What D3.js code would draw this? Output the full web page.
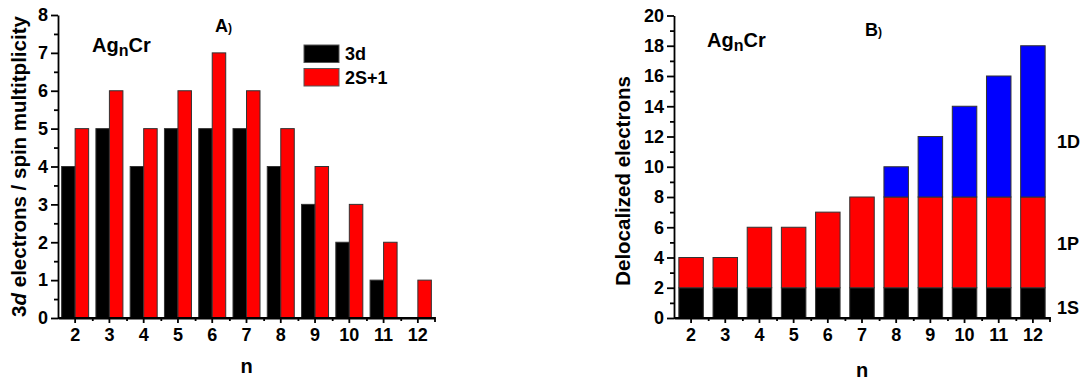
<!DOCTYPE html>
<html>
<head>
<meta charset="utf-8">
<script src="https://cdn.jsdelivr.net/npm/d3@7"></script>
<style>
  body { margin: 0; background: #fff; }
  svg { display: block; font-family: 'Liberation Sans', Arial, sans-serif; font-weight: bold; }
  .axis path, .axis line { stroke: #000; stroke-width: 1.8; }
  .axis text { font-size: 18px; font-weight: bold; fill: #000; }
</style>
</head>
<body>
<div id="chart"></div>
<script>
// cluster size n
const nValues = [2, 3, 4, 5, 6, 7, 8, 9, 10, 11, 12];

// panel A
const electrons3d = [4, 5, 4, 5, 5, 5, 4, 3, 2, 1, 0];
const spinMult = [5, 6, 5, 6, 7, 6, 5, 4, 3, 2, 1];

// panel B: delocalized electrons per shell
const shell1S = [2, 2, 2, 2, 2, 2, 2, 2, 2, 2, 2];
const shell1P = [2, 2, 4, 4, 5, 6, 6, 6, 6, 6, 6];
const shell1D = [0, 0, 0, 0, 0, 0, 2, 4, 6, 8, 10];

const width = 1083;
const height = 380;
const black = '#000000';
const red = '#ff0000';
const blue = '#0000ff';
const barStroke = '#333';

const svg = d3
  .select('#chart')
  .append('svg')
  .attr('width', width)
  .attr('height', height);

// draws bottom axis with major ticks at n and minor ticks between bands
function drawXAxis(g, xScale, y0) {
  const xMinor = d3
    .scaleLinear()
    .domain([nValues[0] - 0.5, nValues[nValues.length - 1] + 0.5])
    .range(xScale.range());
  g.append('g')
    .attr('class', 'axis')
    .attr('transform', `translate(0, ${y0})`)
    .call(
      d3
        .axisBottom(xMinor)
        .tickValues(nValues.map((n) => n + 0.5).slice(0, -1))
        .tickSize(3)
        .tickSizeOuter(0)
        .tickFormat('')
    );
  const ax = g
    .append('g')
    .attr('class', 'axis')
    .attr('transform', `translate(0, ${y0})`)
    .call(d3.axisBottom(xScale).tickSize(5).tickSizeOuter(3).tickPadding(5));
  ax.select('.domain').attr('d', `M${xScale.range()[0]},0H${xScale.range()[1]}V4`);
}

function drawYAxis(g, yScale, x0, major, minor) {
  g.append('g')
    .attr('class', 'axis')
    .attr('transform', `translate(${x0}, 0)`)
    .call(d3.axisLeft(yScale).tickValues(minor).tickSize(4).tickFormat(''))
    .select('.domain')
    .remove();
  g.append('g')
    .attr('class', 'axis')
    .attr('transform', `translate(${x0}, 0)`)
    .call(d3.axisLeft(yScale).tickValues(major).tickSize(7).tickSizeOuter(0).tickPadding(3));
}

// ---------- Panel A ----------
const gA = svg.append('g');
const xA = d3.scaleBand().domain(nValues).range([58, 435]);
const yA = d3.scaleLinear().domain([0, 8]).range([318, 15]);
const barWA = 13.5;

gA.selectAll('rect.d3')
  .data(nValues)
  .enter()
  .append('rect')
  .attr('x', (n) => xA(n) + xA.bandwidth() / 2 - barWA)
  .attr('y', (n, i) => yA(electrons3d[i]))
  .attr('width', barWA)
  .attr('height', (n, i) => yA(0) - yA(electrons3d[i]))
  .attr('fill', black)
  .attr('stroke', barStroke)
  .attr('stroke-width', (n, i) => (electrons3d[i] > 0 ? 1 : 0));

gA.selectAll('rect.spin')
  .data(nValues)
  .enter()
  .append('rect')
  .attr('x', (n) => xA(n) + xA.bandwidth() / 2)
  .attr('y', (n, i) => yA(spinMult[i]))
  .attr('width', barWA)
  .attr('height', (n, i) => yA(0) - yA(spinMult[i]))
  .attr('fill', red)
  .attr('stroke', barStroke)
  .attr('stroke-width', 1);

drawXAxis(gA, xA, yA(0));
drawYAxis(gA, yA, 58, d3.range(0, 9), d3.range(0.5, 8, 1));

// y label
const ylA = gA
  .append('text')
  .attr('transform', `translate(26, ${(yA(0) + yA(8)) / 2}) rotate(-90)`)
  .attr('text-anchor', 'middle')
  .attr('font-size', 20.5);
ylA.append('tspan').text('3');
ylA.append('tspan').attr('font-style', 'italic').text('d');
ylA.append('tspan').text(' electrons / spin multitplicity');

gA.append('text')
  .attr('x', (xA.range()[0] + xA.range()[1]) / 2)
  .attr('y', 373)
  .attr('text-anchor', 'middle')
  .attr('font-size', 20)
  .text('n');

// title and formula
const tA = gA.append('text').attr('x', 215).attr('y', 32).attr('font-size', 18);
tA.append('tspan').text('A');
tA.append('tspan').attr('font-size', 12).text(')');

function formula(g, x, y) {
  const t = g.append('text').attr('x', x).attr('y', y).attr('font-size', 20);
  t.append('tspan').text('Ag');
  t.append('tspan').attr('font-size', 16).attr('dy', 4).text('n');
  t.append('tspan').attr('dy', -4).text('Cr');
}
formula(gA, 92, 52);

// legend
const legendItems = [
  { label: '3d', color: black },
  { label: '2S+1', color: red },
];
const legend = gA.append('g').attr('transform', 'translate(304, 45)');
legend
  .selectAll('rect')
  .data(legendItems)
  .enter()
  .append('rect')
  .attr('x', 0)
  .attr('y', (d, i) => i * 23.5)
  .attr('width', 35)
  .attr('height', 17.5)
  .attr('fill', (d) => d.color)
  .attr('stroke', '#555')
  .attr('stroke-width', 1);
legend
  .selectAll('text')
  .data(legendItems)
  .enter()
  .append('text')
  .attr('x', 41)
  .attr('y', (d, i) => i * 23.5 + 15)
  .attr('font-size', 18)
  .text((d) => d.label);

// ---------- Panel B ----------
const gB = svg.append('g');
const xB = d3.scaleBand().domain(nValues).range([674, 1050]);
const yB = d3.scaleLinear().domain([0, 20]).range([318, 15.5]);
const barWB = 24.5;

const stackData = nValues.map((n, i) => ({
  n: n,
  s: shell1S[i],
  p: shell1P[i],
  d: shell1D[i],
}));
const stack = d3.stack().keys(['s', 'p', 'd'])(stackData);
const shellColors = { s: black, p: red, d: blue };

gB.selectAll('g.layer')
  .data(stack)
  .enter()
  .append('g')
  .attr('fill', (layer) => shellColors[layer.key])
  .selectAll('rect')
  .data((layer) => layer.filter((seg) => seg[1] > seg[0]))
  .enter()
  .append('rect')
  .attr('x', (seg) => xB(seg.data.n) + (xB.bandwidth() - barWB) / 2)
  .attr('y', (seg) => yB(seg[1]))
  .attr('width', barWB)
  .attr('height', (seg) => yB(seg[0]) - yB(seg[1]))
  .attr('stroke', barStroke)
  .attr('stroke-width', 1);

drawXAxis(gB, xB, yB(0));
drawYAxis(gB, yB, 674, d3.range(0, 21, 2), d3.range(1, 20, 2));

gB.append('text')
  .attr('transform', `translate(630, 181) rotate(-90)`)
  .attr('text-anchor', 'middle')
  .attr('font-size', 20.5)
  .text('Delocalized electrons');

gB.append('text')
  .attr('x', (xB.range()[0] + xB.range()[1]) / 2)
  .attr('y', 377)
  .attr('text-anchor', 'middle')
  .attr('font-size', 20)
  .text('n');

const tB = gB.append('text').attr('x', 865).attr('y', 36).attr('font-size', 18);
tB.append('tspan').text('B');
tB.append('tspan').attr('font-size', 12).text(')');

formula(gB, 707, 47);

// shell labels on the right
const shellLabels = ['1D', '1P', '1S'];
const shellLabelY = [148, 250, 314];
gB.selectAll('text.shell')
  .data(shellLabels)
  .enter()
  .append('text')
  .attr('x', 1057)
  .attr('y', (d, i) => shellLabelY[i])
  .attr('font-size', 18)
  .text((d) => d);
</script>
</body>
</html>
